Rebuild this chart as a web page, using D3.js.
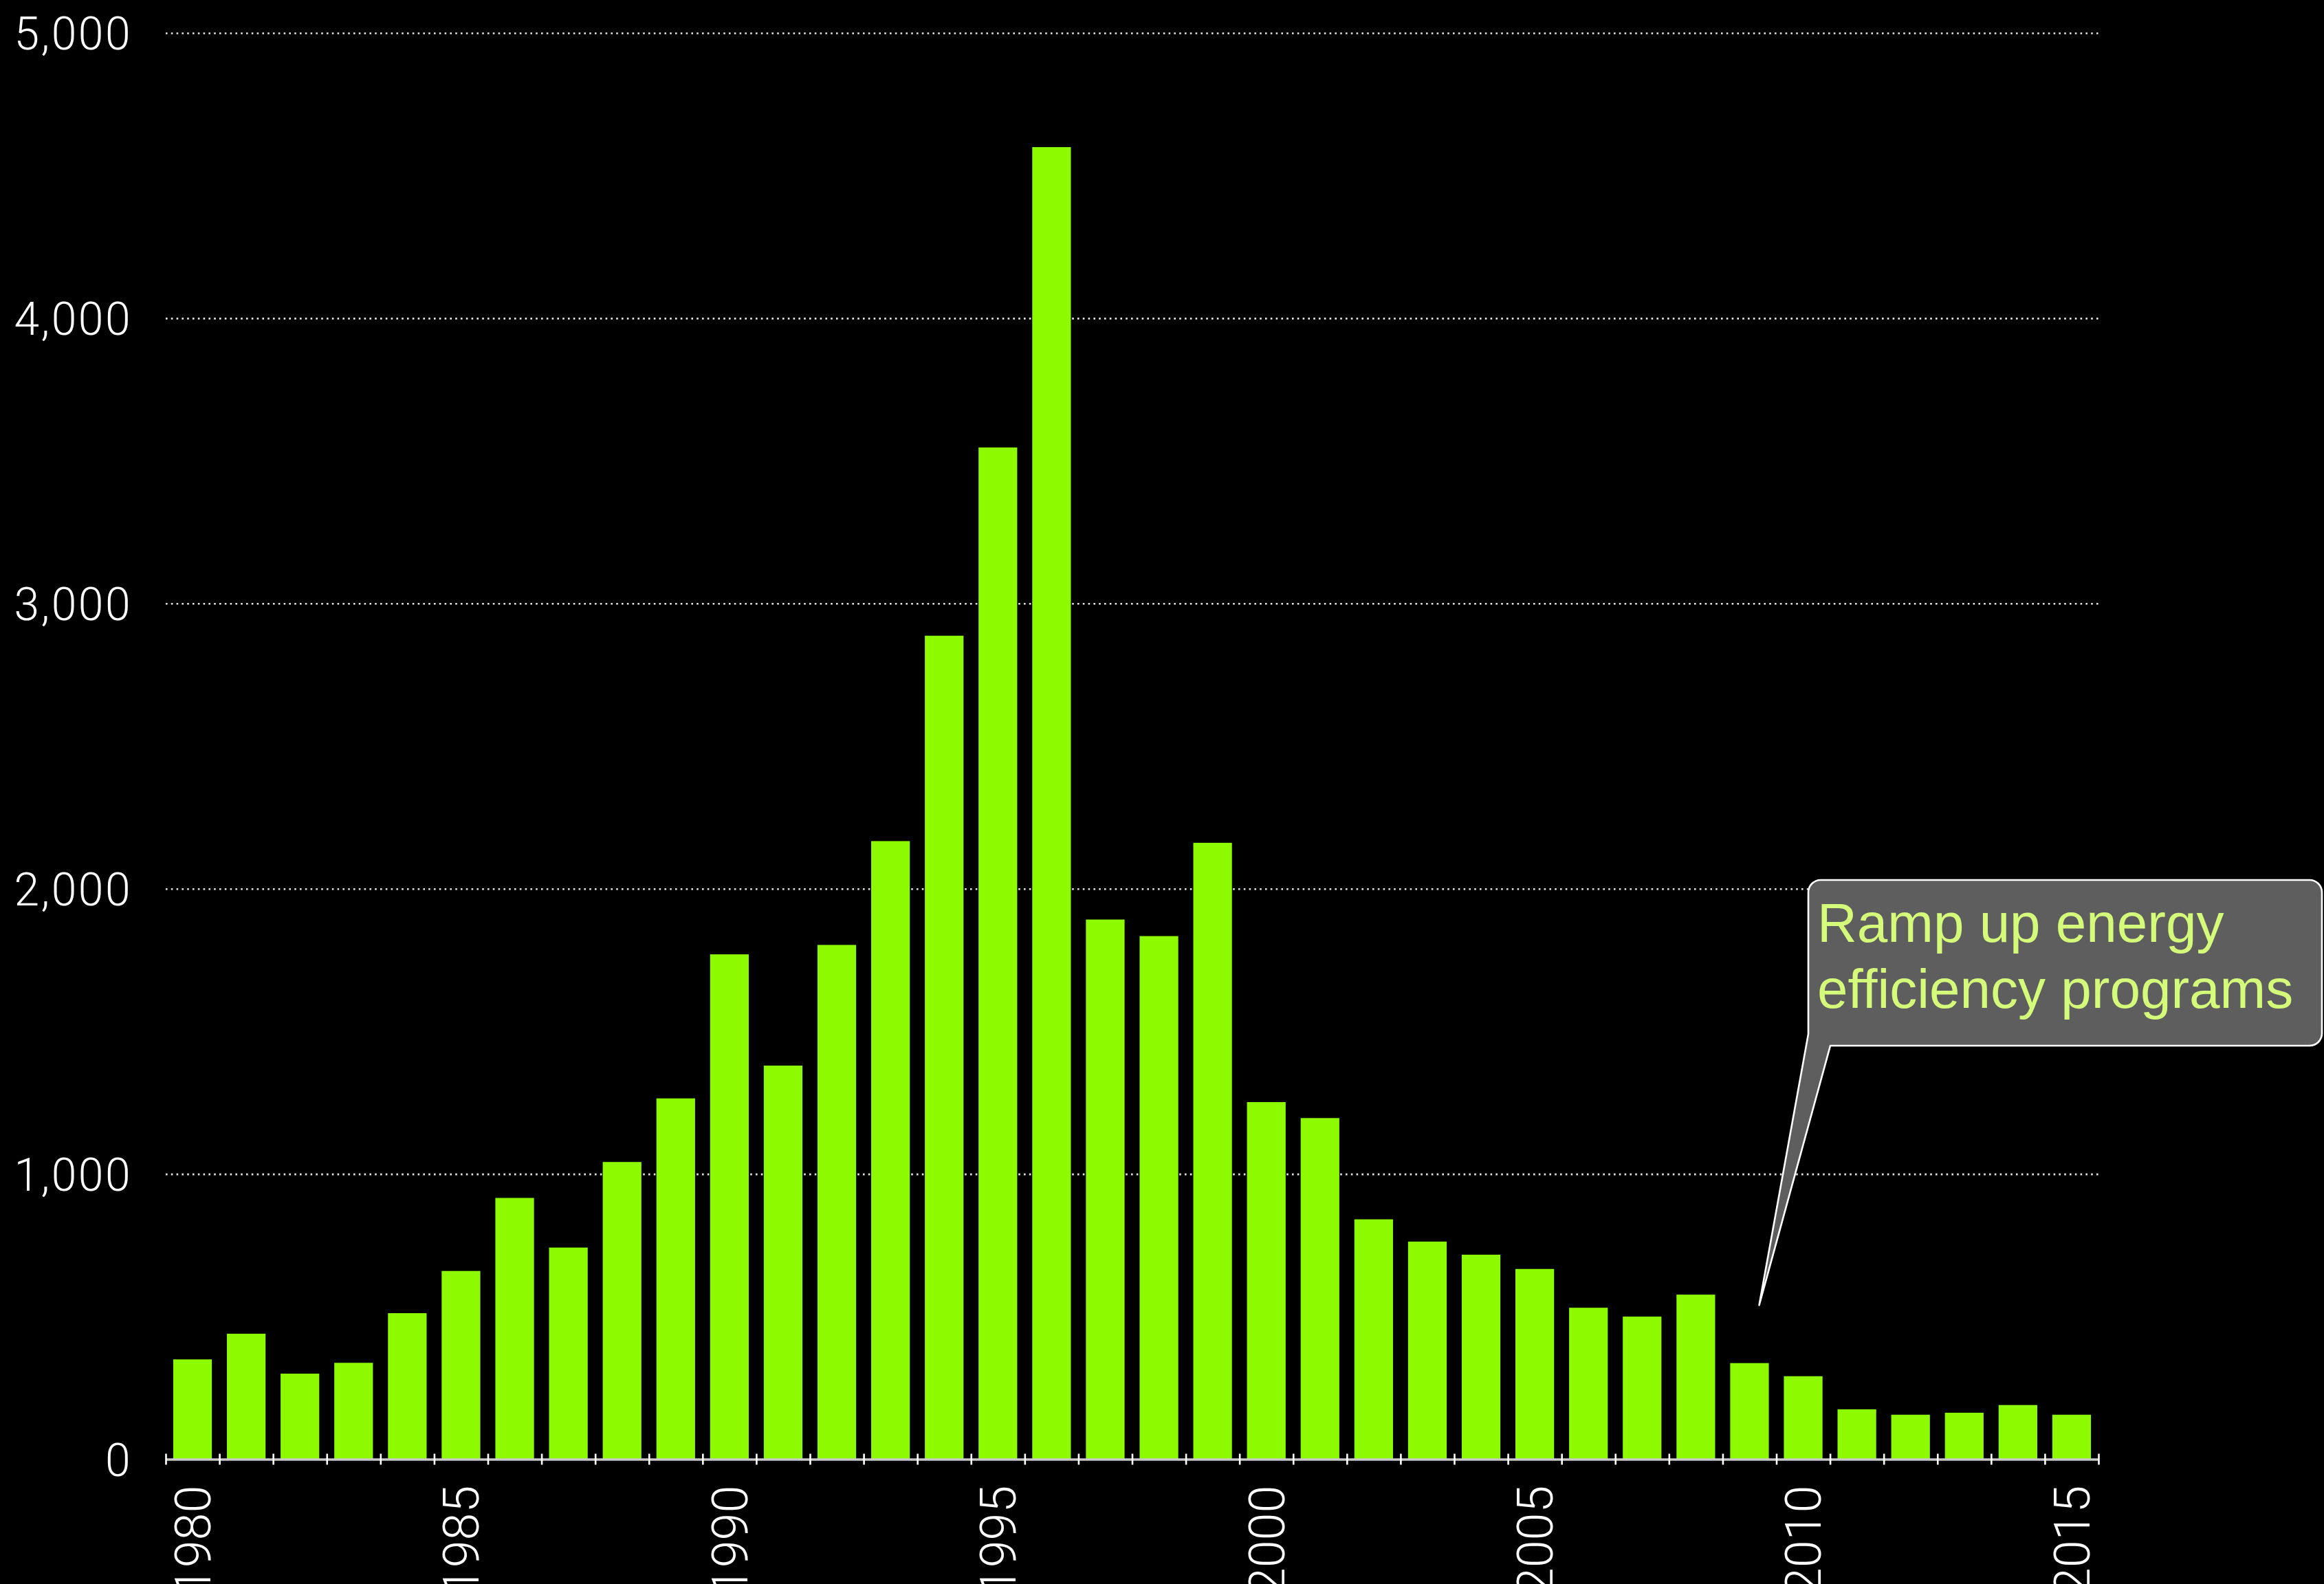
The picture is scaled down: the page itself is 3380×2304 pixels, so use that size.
<!DOCTYPE html>
<html>
<head>
<meta charset="utf-8">
<script src="https://cdn.jsdelivr.net/npm/d3@7"></script>
<style>
  html, body { margin: 0; padding: 0; background: #000; }
  svg { display: block; }
</style>
</head>
<body>
<div id="chart"></div>
<script>
// Yearly values, 1980–2015
const years = [1980, 1981, 1982, 1983, 1984, 1985, 1986, 1987, 1988, 1989,
               1990, 1991, 1992, 1993, 1994, 1995, 1996, 1997, 1998, 1999,
               2000, 2001, 2002, 2003, 2004, 2005, 2006, 2007, 2008, 2009,
               2010, 2011, 2012, 2013, 2014, 2015];
const values = [350, 440, 300, 338, 512, 660, 916, 742, 1042, 1265,
                1770, 1380, 1803, 2167, 2887, 3547, 4600, 1892, 1834, 2161,
                1252, 1196, 841, 763, 717, 667, 531, 500, 577, 337,
                291, 175, 156, 163, 190, 156];
const yTicks = [0, 1000, 2000, 3000, 4000, 5000];
const xLabelYears = [1980, 1985, 1990, 1995, 2000, 2005, 2010, 2015];

// Callout pointing at the 2009 drop
const calloutLines = ["Ramp up energy", "efficiency programs"];
const calloutYear = 2009;
const calloutValue = 540;

const W = 3380, H = 2304;
const plot = { left: 241, right: 3052, top: 48, bottom: 2122.5 };

const svg = d3.select("#chart").append("svg")
  .attr("width", W).attr("height", H)
  .style("background", "#000");

const x = d3.scaleBand()
  .domain(years)
  .range([plot.left, plot.right])
  .paddingInner(0.28)
  .paddingOuter(0.14);

const y = d3.scaleLinear().domain([0, 5000]).range([plot.bottom, plot.top]);

// Dotted horizontal gridlines + value labels
const yAxis = d3.axisLeft(y)
  .tickValues(yTicks)
  .tickFormat(d3.format(","))
  .tickSize(-(plot.right - plot.left))
  .tickPadding(49);

const gy = svg.append("g")
  .attr("transform", `translate(${plot.left},0)`)
  .call(yAxis);
gy.select(".domain").remove();
gy.selectAll(".tick line")
  .attr("stroke", "#e6e6e6")
  .attr("stroke-width", 2.6)
  .attr("stroke-dasharray", "2.6,5.2")
  .filter(d => d === 0).remove();
gy.selectAll(".tick text")
  .attr("fill", "#fff")
  .attr("font-family", "Roboto, 'Helvetica Neue', sans-serif")
  .attr("font-weight", 300)
  .attr("font-size", 66)
  .attr("letter-spacing", 2.5)
  .attr("dy", "0.36em");

// Bars
svg.append("g")
  .selectAll("rect")
  .data(years.map((yr, i) => ({ year: yr, value: values[i] })))
  .join("rect")
  .attr("x", d => x(d.year))
  .attr("y", d => y(d.value))
  .attr("width", x.bandwidth())
  .attr("height", d => y(0) - y(d.value))
  .attr("fill", "#8efa00");

// Baseline with cross ticks at every band boundary
const edges = d3.scaleLinear().domain([0, years.length]).range([plot.left, plot.right]);
const gEdge = svg.append("g")
  .attr("transform", `translate(0,${plot.bottom})`)
  .call(d3.axisBottom(edges)
    .tickValues(d3.range(years.length + 1))
    .tickFormat("")
    .tickSizeOuter(0));
gEdge.select(".domain")
  .attr("stroke", "#c8c8c8")
  .attr("stroke-width", 3.5);
gEdge.selectAll(".tick line")
  .attr("stroke", "#fff")
  .attr("stroke-width", 2.6)
  .attr("y1", -8)
  .attr("y2", 8);

// Rotated year labels
const gx = svg.append("g")
  .attr("transform", `translate(0,${plot.bottom})`)
  .call(d3.axisBottom(x)
    .tickValues(xLabelYears)
    .tickSize(0)
    .tickPadding(0));
gx.select(".domain").remove();
gx.selectAll(".tick text")
  .attr("fill", "#fff")
  .attr("font-family", "Roboto, 'Helvetica Neue', sans-serif")
  .attr("font-weight", 300)
  .attr("font-size", 72)
  .attr("text-anchor", "end")
  .attr("transform", "rotate(-90)")
  .attr("x", -38)
  .attr("y", 0)
  .attr("dy", "0.36em");

// Speech-bubble callout
const box = { l: 2630, t: 1280, r: 3377, b: 1521, rad: 18, stemL: 1504, stemR: 2662 };
const tipX = x(calloutYear) + x.bandwidth() * 0.75;
const tipY = y(calloutValue);
const p = d3.path();
p.moveTo(box.l + box.rad, box.t);
p.lineTo(box.r - box.rad, box.t);
p.arcTo(box.r, box.t, box.r, box.t + box.rad, box.rad);
p.lineTo(box.r, box.b - box.rad);
p.arcTo(box.r, box.b, box.r - box.rad, box.b, box.rad);
p.lineTo(box.stemR, box.b);
p.lineTo(tipX, tipY);
p.lineTo(box.l, box.stemL);
p.lineTo(box.l, box.t + box.rad);
p.arcTo(box.l, box.t, box.l + box.rad, box.t, box.rad);
p.closePath();

svg.append("path")
  .attr("d", p.toString())
  .attr("fill", "#5e5e5e")
  .attr("stroke", "#fff")
  .attr("stroke-width", 2.6)
  .attr("stroke-linejoin", "round");

svg.append("text")
  .attr("font-family", "'Liberation Sans', Helvetica, Arial, sans-serif")
  .attr("font-size", 80)
  .attr("fill", "#d4fb79")
  .selectAll("tspan")
  .data(calloutLines)
  .join("tspan")
  .attr("x", 2643)
  .attr("y", (d, i) => 1370 + i * 96)
  .text(d => d);
</script>
</body>
</html>
